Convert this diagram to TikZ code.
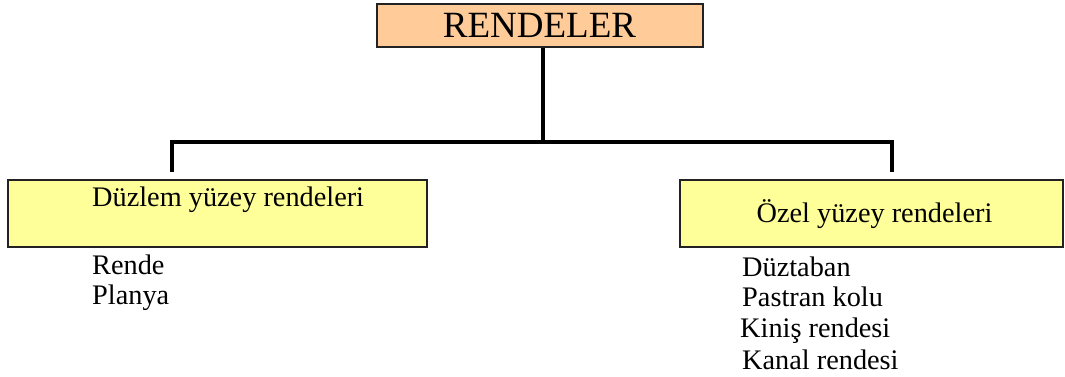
\documentclass[tikz,border=0pt]{standalone}
\usepackage{fontspec}
\setmainfont{Liberation Serif}
\definecolor{boxorange}{HTML}{FFCC99}
\definecolor{boxyellow}{HTML}{FFFF99}
\definecolor{edge}{HTML}{222222}
\begin{document}
\begin{tikzpicture}[x=1pt,y=-1pt,
  topbox/.style={draw=edge,line width=2pt,fill=boxorange,minimum width=326pt,minimum height=43pt,inner sep=0pt,font=\fontsize{37}{41}\selectfont},
  catbox/.style={draw=edge,line width=1.6pt,fill=boxyellow,inner sep=0pt},
  lbl/.style={inner sep=0pt,font=\fontsize{28.3}{32}\selectfont},
  item/.style={lbl,anchor=base west},
  tree/.style={line width=4.8pt,line join=miter}]
\useasboundingbox (0,0) rectangle (1065,377);

% root
\node[topbox] (root) at (539.5,25.5) {RENDELER};

% category boxes
\node[catbox,minimum width=419pt,minimum height=67pt] (left) at (217.5,213.5) {};
\node[catbox,minimum width=383pt,minimum height=67pt] (right) at (871.5,213.5) {};
\node[lbl,anchor=base west] (lefttext) at (92,206) {Düzlem yüzey rendeleri};
\node[lbl,anchor=base] (righttext) at (874.5,222) {Özel yüzey rendeleri};

% tree connectors
\coordinate (join) at (543,142);
\coordinate (lt) at (172,142);
\coordinate (rt) at (892,142);
\coordinate (lb) at (172,172);
\coordinate (rb) at (892,172);
\draw[tree] (root.south -| join) -- (join);
\draw[tree] (lb) -- (lt) -- (rt) -- (rb);

% items under each category
\node[item] (i1) at (92,274) {Rende};
\node[item] (i2) at (92,304) {Planya};
\node[item] (j1) at (742,276) {Düztaban};
\node[item] (j2) at (742,306) {Pastran kolu};
\node[item] (j3) at (740,337) {Kiniş rendesi};
\node[item] (j4) at (742,369) {Kanal rendesi};
\end{tikzpicture}
\end{document}
